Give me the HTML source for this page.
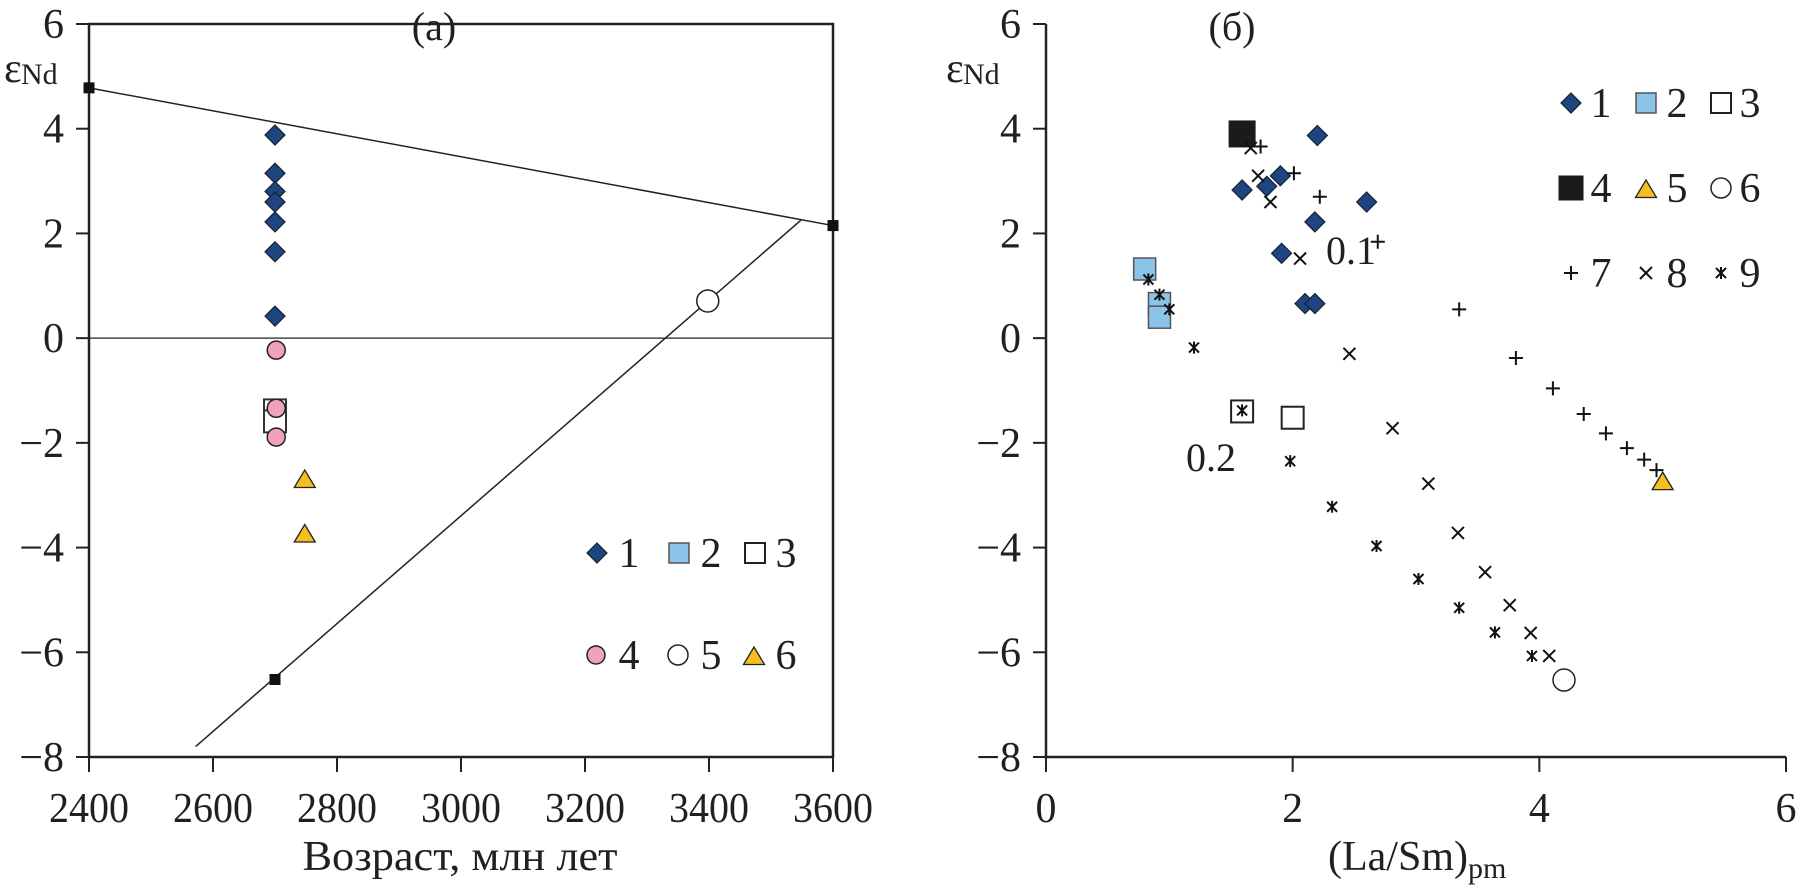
<!DOCTYPE html>
<html><head><meta charset="utf-8"><style>
html,body{margin:0;padding:0;background:#fff;}
svg{display:block;font-family:"Liberation Serif",serif;}
</style></head><body>
<svg id="chart" width="1800" height="892" viewBox="0 0 1800 892" xmlns="http://www.w3.org/2000/svg">
<g id="L"></g>
<g id="R"></g>
</svg>
<script>
// ---------- Panel (a) data ----------
const aXTicks=[2400,2600,2800,3000,3200,3400,3600];
const aYTicks=[6,4,2,0,-2,-4,-6,-8];
const a1x=[2700,2700,2700,2700,2700,2700,2700];
const a1y=[3.88,3.15,2.8,2.6,2.22,1.65,0.42];
const a3x=[2700,2700];
const a3y=[-1.38,-1.59];
const a4x=[2702,2702,2702];
const a4y=[-0.23,-1.34,-1.89];
const a5x=[3398];
const a5y=[0.71];
const a6x=[2748,2748];
const a6y=[-2.71,-3.75];
const lineDMx=[2400,3600];
const lineDMy=[4.78,2.15];
const lineCHx=[2572,3548];
const lineCHy=[-7.8,2.25];
const anchorX=[2400,3600,2700];
const anchorY=[4.78,2.15,-6.52];
// ---------- Panel (b) data ----------
const bXTicks=[0,2,4,6];
const bYTicks=[6,4,2,0,-2,-4,-6,-8];
const b1x=[1.59,1.79,1.9,2.2,2.6,2.18,1.91,2.1,2.18];
const b1y=[2.83,2.9,3.1,3.87,2.6,2.22,1.62,0.66,0.66];
const b2x=[0.8,0.92,0.92];
const b2y=[1.32,0.66,0.4];
const b3x=[1.59,2.0];
const b3y=[-1.4,-1.52];
const b4x=[1.59];
const b4y=[3.9];
const b5x=[5.0];
const b5y=[-2.75];
const b6x=[4.2];
const b6y=[-6.53];
const b7x=[1.74,2.01,2.22,2.69,3.35,3.81,4.11,4.36,4.54,4.71,4.85,4.95];
const b7y=[3.66,3.15,2.7,1.84,0.55,-0.38,-0.96,-1.45,-1.82,-2.1,-2.32,-2.52];
const b8x=[1.66,1.72,1.82,2.06,2.46,2.81,3.1,3.34,3.56,3.76,3.93,4.08];
const b8y=[3.63,3.1,2.6,1.52,-0.3,-1.72,-2.78,-3.72,-4.47,-5.1,-5.63,-6.07];
const b9x=[0.83,0.92,1.0,1.2,1.59,1.98,2.32,2.68,3.02,3.35,3.64,3.94];
const b9y=[1.12,0.83,0.55,-0.18,-1.38,-2.35,-3.22,-3.97,-4.6,-5.15,-5.62,-6.07];

const NS="http://www.w3.org/2000/svg";
function mk(parent,tag,attrs,txt){const e=document.createElementNS(NS,tag);for(const k in attrs)e.setAttribute(k,attrs[k]);if(txt!==undefined)e.textContent=txt;parent.appendChild(e);return e;}
const ax=v=>89+(v-2400)*(833-89)/1200;
const bx=v=>1046+v*(1786-1046)/6;
const Y=v=>24+(6-v)*(757-24)/14;

function diamond(g,x,y,s){return mk(g,'polygon',{points:`${x},${y-s} ${x+s},${y} ${x},${y+s} ${x-s},${y}`,fill:'#1d4580',stroke:'#1a2230','stroke-width':1.2});}
function square(g,x,y,s,fill,stroke,sw){return mk(g,'rect',{x:x-s,y:y-s,width:2*s,height:2*s,fill:fill,stroke:stroke,'stroke-width':sw});}
function circle(g,x,y,r,fill){return mk(g,'circle',{cx:x,cy:y,r:r,fill:fill,stroke:'#222','stroke-width':1.5});}
function tri(g,x,y,s){return mk(g,'polygon',{points:`${x},${y-s} ${x+s*1.05},${y+s*0.75} ${x-s*1.05},${y+s*0.75}`,fill:'#f6bf1e',stroke:'#222','stroke-width':1.3});}
function plus(g,x,y,s){return mk(g,'path',{d:`M${x-s},${y}H${x+s}M${x},${y-s}V${y+s}`,stroke:'#111','stroke-width':2,fill:'none'});}
function cross(g,x,y,s){return mk(g,'path',{d:`M${x-s},${y-s}L${x+s},${y+s}M${x-s},${y+s}L${x+s},${y-s}`,stroke:'#111','stroke-width':2,fill:'none'});}
function star(g,x,y,s){return mk(g,'path',{d:`M${x-s},${y-s}L${x+s},${y+s}M${x-s},${y+s}L${x+s},${y-s}M${x},${y-s-1}V${y+s+1}`,stroke:'#111','stroke-width':2,fill:'none'});}

// ---------- Panel (a) ----------
const L=document.getElementById('L');
let e;
e=mk(L,'path',{d:`M89,24H833V757H89Z`,fill:'none',stroke:'#222','stroke-width':2.5});


e=mk(L,'line',{x1:89,y1:Y(0),x2:833,y2:Y(0),stroke:'#222','stroke-width':1.3});


aYTicks.forEach(t=>{
  e=mk(L,'line',{x1:76,y1:Y(t),x2:89,y2:Y(t),stroke:'#222','stroke-width':2});
  
  
  e=mk(L,'text',{x:64,y:Y(t)+14,'text-anchor':'end','font-size':42,fill:'#231f20'},(t<0?'\u2212':'')+Math.abs(t));
  
  
});
aXTicks.forEach(t=>{
  e=mk(L,'line',{x1:ax(t),y1:757,x2:ax(t),y2:772,stroke:'#222','stroke-width':2});
  
  
  e=mk(L,'text',{x:ax(t),y:822,'text-anchor':'middle','font-size':42,fill:'#231f20',textLength:80,lengthAdjust:'spacingAndGlyphs'},String(t));
  
  
});
e=mk(L,'text',{x:460,y:870,'text-anchor':'middle','font-size':42,fill:'#231f20',textLength:315,lengthAdjust:'spacingAndGlyphs'},'Возраст, млн лет');


e=mk(L,'text',{x:4,y:82,'font-size':42,fill:'#231f20'},'ε');


e=mk(L,'text',{x:21,y:84,'font-size':30,fill:'#231f20'},'Nd');


e=mk(L,'text',{x:434,y:40,'text-anchor':'middle','font-size':40,fill:'#231f20'},'(a)');


e=mk(L,'line',{x1:ax(lineDMx[0]),y1:Y(lineDMy[0]),x2:ax(lineDMx[1]),y2:Y(lineDMy[1]),stroke:'#222','stroke-width':1.5});


e=mk(L,'line',{x1:ax(lineCHx[0]),y1:Y(lineCHy[0]),x2:ax(lineCHx[1]),y2:Y(lineCHy[1]),stroke:'#222','stroke-width':1.5});


anchorX.forEach((v,i)=>{e=square(L,ax(v),Y(anchorY[i]),5,'#111','#111',1);
  
  });
a1x.forEach((v,i)=>{e=diamond(L,ax(v),Y(a1y[i]),10);
  
  });
a3x.forEach((v,i)=>{e=square(L,ax(v),Y(a3y[i]),11,'#fff','#333',2);
  
  });
a4x.forEach((v,i)=>{e=circle(L,ax(v),Y(a4y[i]),9,'#f0a1bb');
  
  });
a5x.forEach((v,i)=>{e=circle(L,ax(v),Y(a5y[i]),11,'#fff');
  
  });
a6x.forEach((v,i)=>{e=tri(L,ax(v),Y(a6y[i]),10);
  
  });
const lgA=mk(L,'g',{});


diamond(lgA,597,553,10); square(lgA,679,553,10,'#8cc3e8','#555',1.5); square(lgA,755,553,10,'#fff','#222',2);
circle(lgA,596,655,9,'#f0a1bb'); circle(lgA,678,655,10,'#fff'); tri(lgA,754,657,10);
[['1',629,553],['2',711,553],['3',786,553],['4',629,655],['5',711,655],['6',786,655]].forEach(d=>{
  e=mk(lgA,'text',{x:d[1],y:d[2]+14,'text-anchor':'middle','font-size':42,fill:'#231f20'},d[0]);
  
  
});

// ---------- Panel (b) ----------
const R=document.getElementById('R');
e=mk(R,'path',{d:`M1046,24V757H1786`,fill:'none',stroke:'#222','stroke-width':2.5});


bYTicks.forEach(t=>{
  e=mk(R,'line',{x1:1033,y1:Y(t),x2:1046,y2:Y(t),stroke:'#222','stroke-width':2});
  
  
  e=mk(R,'text',{x:1021,y:Y(t)+14,'text-anchor':'end','font-size':42,fill:'#231f20'},(t<0?'\u2212':'')+Math.abs(t));
  
  
});
bXTicks.forEach(t=>{
  e=mk(R,'line',{x1:bx(t),y1:757,x2:bx(t),y2:772,stroke:'#222','stroke-width':2});
  
  
  e=mk(R,'text',{x:bx(t),y:822,'text-anchor':'middle','font-size':42,fill:'#231f20'},String(t));
  
  
});
e=mk(R,'text',{x:1398,y:870,'text-anchor':'middle','font-size':42,fill:'#231f20'},'(La/Sm)');


e=mk(R,'text',{x:1468,y:878,'font-size':30,fill:'#231f20'},'pm');


e=mk(R,'text',{x:946,y:82,'font-size':42,fill:'#231f20'},'ε');


e=mk(R,'text',{x:963,y:84,'font-size':30,fill:'#231f20'},'Nd');


e=mk(R,'text',{x:1232,y:40,'text-anchor':'middle','font-size':40,fill:'#231f20'},'(б)');


e=mk(R,'text',{x:1326,y:264,'font-size':40,fill:'#231f20'},'0.1');


e=mk(R,'text',{x:1186,y:471,'font-size':40,fill:'#231f20'},'0.2');


b2x.forEach((v,i)=>{e=square(R,bx(v),Y(b2y[i]),11,'#8cc3e8','#555',1.5);
  
  });
b3x.forEach((v,i)=>{e=square(R,bx(v),Y(b3y[i]),11,'#fff','#222',2);
  
  });
b4x.forEach((v,i)=>{e=square(R,bx(v),Y(b4y[i]),13,'#1c1a1b','#1c1a1b',1);
  
  });
b1x.forEach((v,i)=>{e=diamond(R,bx(v),Y(b1y[i]),10);
  
  });
b5x.forEach((v,i)=>{e=tri(R,bx(v),Y(b5y[i]),10);
  
  });
b6x.forEach((v,i)=>{e=circle(R,bx(v),Y(b6y[i]),11,'#fff');
  
  });
b7x.forEach((v,i)=>{e=plus(R,bx(v),Y(b7y[i]),7);
  
  });
b8x.forEach((v,i)=>{e=cross(R,bx(v),Y(b8y[i]),6);
  
  });
b9x.forEach((v,i)=>{e=star(R,bx(v),Y(b9y[i]),5);
  
  });
const lgB=mk(R,'g',{});


diamond(lgB,1571,103,10); square(lgB,1646,103,10,'#8cc3e8','#555',1.5); square(lgB,1721,103,10,'#fff','#222',2);
square(lgB,1571,188,12,'#1c1a1b','#1c1a1b',1); tri(lgB,1646,190,10); circle(lgB,1721,188,10,'#fff');
plus(lgB,1571,273,7); cross(lgB,1646,273,6); star(lgB,1721,273,5);
[['1',1601,103],['2',1677,103],['3',1750,103],['4',1601,188],['5',1677,188],['6',1750,188],['7',1601,273],['8',1677,273],['9',1750,273]].forEach(d=>{
  e=mk(lgB,'text',{x:d[1],y:d[2]+14,'text-anchor':'middle','font-size':42,fill:'#231f20'},d[0]);
  
  
});
</script>
</body></html>
